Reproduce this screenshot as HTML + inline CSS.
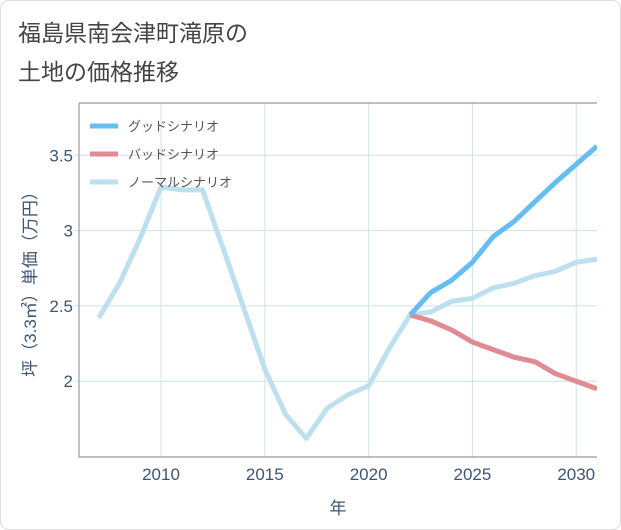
<!DOCTYPE html>
<html><head><meta charset="utf-8"><style>
body{margin:0;background:#fff;}
#wrap{position:relative;width:621px;height:530px;font-family:"Liberation Sans","Noto Sans CJK JP",sans-serif;}
.title{position:absolute;left:18px;font-size:23px;color:#444;}
</style></head><body>
<div id="wrap">
<svg width="621" height="530" style="position:absolute;left:0;top:0">
<rect x="0.5" y="0.5" width="620" height="529" rx="8" fill="#fff" stroke="#ddd"/>
<g id="plot"></g>
</svg>
<div class="title" style="top:14px">福島県南会津町滝原の</div>
<div class="title" style="top:53px">土地の価格推移</div>
</div>
<script>
const years=[2007,2008,2009,2010,2011,2012,2013,2014,2015,2016,2017,2018,2019,2020,2021,2022,2023,2024,2025,2026,2027,2028,2029,2030,2031];
const normal=[2.42,2.65,2.95,3.29,3.27,3.27,2.88,2.48,2.08,1.78,1.62,1.82,1.91,1.97,2.22,2.44,2.46,2.53,2.55,2.62,2.65,2.70,2.73,2.79,2.81];
const goodYears=[2022,2023,2024,2025,2026,2027,2028,2029,2030,2031];
const good=[2.44,2.59,2.67,2.79,2.96,3.06,3.19,3.32,3.44,3.56];
const bad=[2.44,2.40,2.34,2.26,2.21,2.16,2.13,2.05,2.00,1.95];
const xTicks=[2010,2015,2020,2025,2030];
const yTicks=[2,2.5,3,3.5];
const yLabels=["2","2.5","3","3.5"];
const L=79,R=597,T=103,B=457,X0=2006.05,X1=2031,Y0=1.497,Y1=3.847;
const x=v=>L+(v-X0)/(X1-X0)*(R-L);
const y=v=>B-(v-Y0)/(Y1-Y0)*(B-T);
const NS="http://www.w3.org/2000/svg";
const g=document.getElementById('plot');
function mk(t,a){const e=document.createElementNS(NS,t);for(const k in a)e.setAttribute(k,a[k]);g.appendChild(e);return e;}
xTicks.forEach((v,i)=>{
 const l=mk('line',{x1:x(v),x2:x(v),y1:T,y2:B,stroke:'#cfe0ee','stroke-width':1});
 
 
 const t=mk('text',{x:x(v),y:B+23,'text-anchor':'middle','font-size':17,fill:'#3f5670'});
 t.textContent=v;
 
 
});
yTicks.forEach((v,i)=>{
 const l=mk('line',{x1:L-5,x2:R,y1:y(v),y2:y(v),stroke:'#cfe0ee','stroke-width':1});
 
 
 const t=mk('text',{x:L-6,y:y(v)+6,'text-anchor':'end','font-size':17,fill:'#3f5670'});
 t.textContent=yLabels[i];
 
 
});
const fr=mk('path',{d:`M${L},${T}H${R}M${L},${T}V${B}H${R}`,fill:'none',stroke:'#999','stroke-width':1.2});


const clip=document.createElementNS(NS,'clipPath');clip.setAttribute('id','c');
const cr=document.createElementNS(NS,'rect');cr.setAttribute('x',L);cr.setAttribute('y',T);cr.setAttribute('width',R-L);cr.setAttribute('height',B-T);clip.appendChild(cr);g.appendChild(clip);
function line(xs,ys,color,name){
 const p=mk('polyline',{points:xs.map((v,i)=>x(v)+','+y(ys[i])).join(' '),fill:'none',stroke:color,'stroke-width':5,'stroke-linejoin':'round','clip-path':'url(#c)'});
 
 
}
line(years,normal,'#bde0ef','normal-scenario-line');
line(goodYears,bad,'#e08a92','bad-scenario-line');
line(goodYears,good,'#66bdf2','good-scenario-line');
const leg=[['グッドシナリオ','#66bdf2'],['バッドシナリオ','#e08a92'],['ノーマルシナリオ','#bde0ef']];
leg.forEach((d,i)=>{
 const yy=126+i*28;
 const l=mk('line',{x1:90,x2:118,y1:yy,y2:yy,stroke:d[1],'stroke-width':5});
 
 
 const t=mk('text',{x:128,y:yy+5,'font-size':13,fill:'#555'});
 t.textContent=d[0];
 
 
});
const xt=mk('text',{x:(L+R)/2,y:514,'text-anchor':'middle','font-size':17,fill:'#3f5670'});
xt.textContent='年';


const yt=mk('text',{x:0,y:0,'text-anchor':'middle','font-size':17,fill:'#3f5670',transform:`translate(36,${(T+B)/2}) rotate(-90)`});
yt.textContent='坪（3.3㎡）単価（万円）';


</script>
</body></html>
